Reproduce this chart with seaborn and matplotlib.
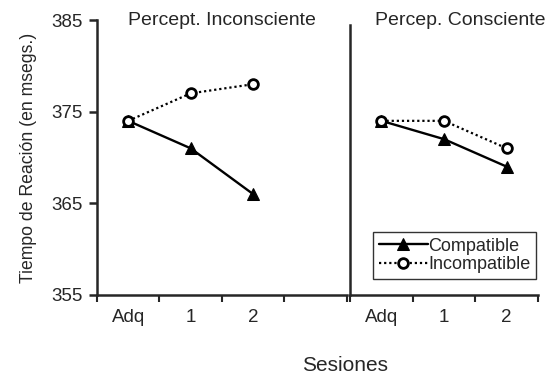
import matplotlib
matplotlib.use("Agg")
import matplotlib.pyplot as plt
import seaborn as sns
import pandas as pd

# Data.
sessions = ["Adq", "1", "2"]
panels = ["Percept. Inconsciente", "Percep. Consciente"]
compatible_inc = [374, 371, 366]
incompatible_inc = [374, 377, 378]
compatible_con = [374, 372, 369]
incompatible_con = [374, 374, 371]

sns.set_style("ticks")
plt.rcParams['font.family'] = ['Liberation Sans', 'DejaVu Sans']


def make_df(comp, incomp):
    rows = []
    for i, s in enumerate(sessions):
        rows.append({"pos": i + 0.5, "sesion": s, "cond": "Compatible", "tr": comp[i]})
        rows.append({"pos": i + 0.5, "sesion": s, "cond": "Incompatible", "tr": incomp[i]})
    return pd.DataFrame(rows)


dfs = [make_df(compatible_inc, incompatible_inc),
       make_df(compatible_con, incompatible_con)]

fig = plt.figure(figsize=(5.54, 3.79), dpi=100)
ax1 = fig.add_axes([0.175, 0.222, 0.451, 0.725])
ax2 = fig.add_axes([0.632, 0.222, 0.339, 0.725], sharey=ax1)

for ax, df, nslots in [(ax1, dfs[0], 4), (ax2, dfs[1], 3)]:
    comp = df[df.cond == "Compatible"]
    inc = df[df.cond == "Incompatible"]
    sns.lineplot(data=comp, x="pos", y="tr", ax=ax, color="black", lw=1.7,
                 marker="^", markersize=8.5, markeredgecolor="black",
                 markerfacecolor="black", label="Compatible")
    sns.lineplot(data=inc, x="pos", y="tr", ax=ax, color="black", lw=1.6,
                 linestyle=(0, (1, 1.3)), marker="o", markersize=7,
                 markeredgecolor="black", markerfacecolor="white",
                 markeredgewidth=2, label="Incompatible")
    ax.set_xlim(0, nslots)
    ax.set_xticks([i + 0.5 for i in range(len(sessions))])
    ax.set_xticklabels(sessions, fontsize=13.5)
    ax.set_xticks(range(nslots + 1), minor=True)
    ax.tick_params(axis="x", which="major", length=0, pad=10)
    ax.tick_params(axis="x", which="minor", length=5, width=1.5, direction="out")
    ax.set_xlabel("")
    ax.set_ylabel("")
    for sp in ["top", "right"]:
        ax.spines[sp].set_visible(False)
    ax.spines["bottom"].set_linewidth(1.8)
    ax.spines["left"].set_linewidth(1.8)

ax1.set_ylim(355, 385)
ax1.set_yticks([355, 365, 375, 385])
ax1.tick_params(axis="y", length=6, width=1.8, labelsize=13.5, pad=4)
ax1.set_ylabel("Tiempo de Reación (en msegs.)", fontsize=12.7)
ax1.yaxis.set_label_coords(-0.24, 0.5)
ax1.get_legend().remove()

ax2.tick_params(axis="y", left=False, labelleft=False)
ax2.spines["left"].set_bounds(355, 384.5)

ax1.text(0.5, 1.0, panels[0], transform=ax1.transAxes, ha="center", va="center", fontsize=14)
ax2.text(0.585, 1.0, panels[1], transform=ax2.transAxes, ha="center", va="center", fontsize=14)

leg = ax2.legend(loc="lower right", bbox_to_anchor=(1.01, 0.045), frameon=True,
                 fontsize=13, handlelength=2.7, handletextpad=0.05,
                 borderpad=0.3, labelspacing=0.1, borderaxespad=0.2,
                 fancybox=False)
leg.get_frame().set_edgecolor("black")
leg.get_frame().set_linewidth(1.0)

fig.text(0.623, 0.035, "Sesiones", ha="center", va="center", fontsize=15)

fig.savefig("out.png", dpi=100)
